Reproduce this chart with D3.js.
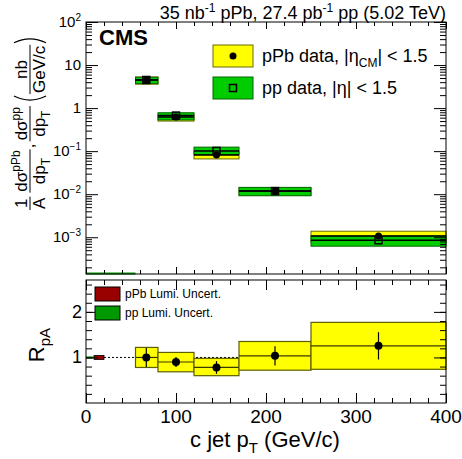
<!DOCTYPE html>
<html>
<head>
<meta charset="utf-8">
<script src="https://cdn.jsdelivr.net/npm/d3@7"></script>
<style>
body{margin:0;background:#fff;}
svg{font-family:"Liberation Sans",Arial,Helvetica,sans-serif;}
</style>
</head>
<body>
<div id="chart"></div>
<script>
// c jet pT bins (GeV/c)
const binLo = [55, 80, 120, 170, 250];
const binHi = [80, 120, 170, 250, 400];
const binPt = [67, 100, 145, 210, 325];
// pPb spectrum (scaled by 1/A), nb/(GeV/c)
const pPbVal = [4.5, 0.62, 0.081, 0.0118, 0.00107];
const pPbSysLo = [3.6, 0.50, 0.066, 0.0095, 0.00077];
const pPbSysHi = [5.3, 0.72, 0.100, 0.0140, 0.00138];
// pp spectrum
const ppVal = [4.5, 0.67, 0.101, 0.0118, 0.00085];
const ppSysLo = [3.7, 0.53, 0.083, 0.0092, 0.00062];
const ppSysHi = [5.2, 0.78, 0.124, 0.0144, 0.00107];
// nuclear modification factor
const rpaVal = [1.0, 0.90, 0.78, 1.035, 1.255];
const rpaStat = [0.21, 0.11, 0.14, 0.21, 0.30];
const rpaSysLo = [0.78, 0.685, 0.60, 0.72, 0.74];
const rpaSysHi = [1.22, 1.11, 0.98, 1.35, 1.77];
// luminosity uncertainties: [xlo, xhi, halfwidth]
const lumiPP = [0, 9, 0.023];
const lumiPPb = [9, 20, 0.045];
// ticks
const xMajor = [0, 100, 200, 300, 400];
const xMinor = d3.range(0, 401, 20);
const decades = [-3, -2, -1, 0, 1, 2];
const rMajor = [1, 2];
const rMinor = d3.range(0.2, 2.7, 0.2);

const W = 462, H = 459;
const x = d3.scaleLinear().domain([0, 400]).range([86, 446]);
const yTop = d3.scaleLog().domain([1.4e-4, 100]).range([274, 22]);
const yBot = d3.scaleLinear().domain([0, 2.7]).range([403, 280]);

const svg = d3.select("#chart").append("svg").attr("width", W).attr("height", H);

let logMinor = [];
decades.concat([-4]).forEach(function(k){
	for(let m = 2; m <= 9; m++){
		let v = m * Math.pow(10, k);
		if(v > 1.4e-4 && v < 100) logMinor.push(v);
	}
});

function tickAxis(axisFn, scale, values, size, tx, ty){
	let g = svg.append("g").attr("transform", "translate(" + tx + "," + ty + ")");
	g.call(axisFn(scale).tickValues(values).tickSize(-size).tickSizeOuter(0).tickFormat(""));
	g.select(".domain").remove();
	g.selectAll("line").attr("stroke", "#000");
	return g;
}

// ---------- top panel ----------
const topG = svg.append("g");
for(let i = 0; i < binLo.length; i++){
	topG.append("rect")
		.attr("x", x(binLo[i])).attr("width", x(binHi[i]) - x(binLo[i]))
		.attr("y", yTop(pPbSysHi[i])).attr("height", yTop(pPbSysLo[i]) - yTop(pPbSysHi[i]))
		.attr("fill", "#ffff00").attr("stroke", "#6b6b00").attr("stroke-width", 1);
	topG.append("rect")
		.attr("x", x(binLo[i])).attr("width", x(binHi[i]) - x(binLo[i]))
		.attr("y", yTop(ppSysHi[i])).attr("height", yTop(ppSysLo[i]) - yTop(ppSysHi[i]))
		.attr("fill", "#00cc00").attr("stroke", "#006600").attr("stroke-width", 1);
	[pPbVal[i], ppVal[i]].forEach(function(v){
		topG.append("line")
			.attr("x1", x(binLo[i])).attr("x2", x(binHi[i]))
			.attr("y1", yTop(v)).attr("y2", yTop(v))
			.attr("stroke", "#000").attr("stroke-width", 1.5);
	});
}
for(let i = 0; i < binLo.length; i++){
	topG.append("circle").attr("cx", x(binPt[i])).attr("cy", yTop(pPbVal[i])).attr("r", 3.5).attr("fill", "#000");
	topG.append("rect").attr("x", x(binPt[i]) - 3.5).attr("y", yTop(ppVal[i]) - 3.5)
		.attr("width", 7).attr("height", 7).attr("fill", "none").attr("stroke", "#000").attr("stroke-width", 1.5);
}
// pp lumi band collapsed onto the lower edge
topG.append("line").attr("x1", x(0)).attr("x2", x(55)).attr("y1", 273.5).attr("y2", 273.5)
	.attr("stroke", "#009900").attr("stroke-width", 2);

svg.append("rect").attr("x", 86).attr("y", 22).attr("width", 360).attr("height", 252)
	.attr("fill", "none").attr("stroke", "#000").attr("stroke-width", 1);

tickAxis(d3.axisLeft, yTop, decades.map(k => Math.pow(10, k)), 12, 86, 0);
tickAxis(d3.axisLeft, yTop, logMinor, 6, 86, 0);
tickAxis(d3.axisRight, yTop, decades.map(k => Math.pow(10, k)), 12, 446, 0);
tickAxis(d3.axisRight, yTop, logMinor, 6, 446, 0);
tickAxis(d3.axisBottom, x, xMajor, 7, 0, 274);
tickAxis(d3.axisBottom, x, xMinor, 4, 0, 274);
tickAxis(d3.axisTop, x, xMajor, 7, 0, 22);
tickAxis(d3.axisTop, x, xMinor, 4, 0, 22);

decades.forEach(function(k){
	let t = svg.append("text").attr("x", 81).attr("y", yTop(Math.pow(10, k)) + 5)
		.attr("text-anchor", "end").style("font-size", "15px");
	if(k === 0){
		t.text("1");
	}else if(k === 1){
		t.text("10");
	}else{
		t.append("tspan").text("10");
		t.append("tspan").attr("dy", -6).style("font-size", "10px").text(k < 0 ? "\u2212" + (-k) : k);
	}
});

// y title (rotated, laid out along the reading direction)
const yt = svg.append("g").attr("transform", "translate(30,250) rotate(-90)").style("font-size", "17px");
let cursor = 40;
function fracPart(num, numSup, den, denSub){
	let n = yt.append("text").attr("y", -3).attr("text-anchor", "middle");
	n.append("tspan").text(num);
	if(numSup) n.append("tspan").attr("dy", -7).style("font-size", "12px").text(numSup);
	let d = yt.append("text").attr("y", 15).attr("text-anchor", "middle");
	d.append("tspan").text(den);
	if(denSub) d.append("tspan").attr("dy", 5).style("font-size", "12px").text(denSub);
	let w = Math.max(n.node().getComputedTextLength(), d.node().getComputedTextLength()) + 2;
	let cx = cursor + w/2;
	n.attr("x", cx);
	d.attr("x", cx);
	yt.append("line").attr("x1", cx - w/2).attr("x2", cx + w/2).attr("y1", 0).attr("y2", 0)
		.attr("stroke", "#000").attr("stroke-width", 1);
	cursor += w;
}
fracPart("1", null, "A", null);
cursor += 4;
fracPart("d\u03c3", "pPb", "dp", "T");
cursor += 1;
yt.append("text").attr("x", cursor).attr("y", 4).text(",");
cursor += 7;
fracPart("d\u03c3", "pp", "dp", "T");
cursor += 4;
yt.append("path").attr("d", "M" + (cursor + 6) + ",-16 Q" + (cursor - 2) + ",0 " + (cursor + 6) + ",16")
	.attr("fill", "none").attr("stroke", "#000").attr("stroke-width", 1.3);
cursor += 8;
fracPart("nb", null, "GeV/c", null);
cursor += 2;
yt.append("path").attr("d", "M" + cursor + ",-16 Q" + (cursor + 8) + ",0 " + cursor + ",16")
	.attr("fill", "none").attr("stroke", "#000").attr("stroke-width", 1.3);

// header texts
const head = svg.append("text").attr("x", 446).attr("y", 19).attr("text-anchor", "end").style("font-size", "18px");
head.append("tspan").text("35 nb");
head.append("tspan").attr("dy", -7).style("font-size", "12px").text("-1");
head.append("tspan").attr("dy", 7).text(" pPb, 27.4 pb");
head.append("tspan").attr("dy", -7).style("font-size", "12px").text("-1");
head.append("tspan").attr("dy", 7).text(" pp (5.02 TeV)");

svg.append("text").attr("x", 99).attr("y", 45).style("font-size", "22px").style("font-weight", "bold").text("CMS");

// top legend
svg.append("rect").attr("x", 213).attr("y", 45).attr("width", 40).attr("height", 22)
	.attr("fill", "#ffff00").attr("stroke", "#6b6b00");
svg.append("circle").attr("cx", 233).attr("cy", 56).attr("r", 3.5).attr("fill", "#000");
svg.append("rect").attr("x", 213).attr("y", 77).attr("width", 40).attr("height", 22)
	.attr("fill", "#00cc00").attr("stroke", "#006600");
svg.append("rect").attr("x", 229.5).attr("y", 84.5).attr("width", 7).attr("height", 7)
	.attr("fill", "none").attr("stroke", "#000").attr("stroke-width", 1.5);
const l1 = svg.append("text").attr("x", 262).attr("y", 62).style("font-size", "18px");
l1.append("tspan").text("pPb data, |\u03b7");
l1.append("tspan").attr("dy", 5).style("font-size", "12px").text("CM");
l1.append("tspan").attr("dy", -5).text("| < 1.5");
svg.append("text").attr("x", 262).attr("y", 94).style("font-size", "18px").text("pp data, |\u03b7| < 1.5");

// ---------- bottom panel ----------
const botG = svg.append("g");
botG.append("line").attr("x1", x(20)).attr("x2", x(400)).attr("y1", yBot(1)).attr("y2", yBot(1))
	.attr("stroke", "#000").attr("stroke-dasharray", "2,2").attr("stroke-width", 1);
botG.append("rect").attr("x", x(lumiPP[0])).attr("width", x(lumiPP[1]) - x(lumiPP[0]))
	.attr("y", yBot(1 + lumiPP[2])).attr("height", yBot(1 - lumiPP[2]) - yBot(1 + lumiPP[2]))
	.attr("fill", "#009900");
botG.append("rect").attr("x", x(lumiPPb[0])).attr("width", x(lumiPPb[1]) - x(lumiPPb[0]))
	.attr("y", yBot(1 + lumiPPb[2])).attr("height", yBot(1 - lumiPPb[2]) - yBot(1 + lumiPPb[2]))
	.attr("fill", "#990000").attr("stroke", "#000").attr("stroke-width", 0.8);
for(let i = 0; i < binLo.length; i++){
	botG.append("rect")
		.attr("x", x(binLo[i])).attr("width", x(binHi[i]) - x(binLo[i]))
		.attr("y", yBot(rpaSysHi[i])).attr("height", yBot(rpaSysLo[i]) - yBot(rpaSysHi[i]))
		.attr("fill", "#ffff00").attr("stroke", "#5e5e00").attr("stroke-width", 1.2);
	botG.append("line").attr("x1", x(binLo[i])).attr("x2", x(binHi[i]))
		.attr("y1", yBot(rpaVal[i])).attr("y2", yBot(rpaVal[i]))
		.attr("stroke", "#3a3a00").attr("stroke-width", 1.2);
	botG.append("line").attr("x1", x(binPt[i])).attr("x2", x(binPt[i]))
		.attr("y1", yBot(rpaVal[i] + rpaStat[i])).attr("y2", yBot(rpaVal[i] - rpaStat[i]))
		.attr("stroke", "#000").attr("stroke-width", 1.2);
	botG.append("circle").attr("cx", x(binPt[i])).attr("cy", yBot(rpaVal[i])).attr("r", 4).attr("fill", "#000");
}

svg.append("rect").attr("x", 86).attr("y", 280).attr("width", 360).attr("height", 123)
	.attr("fill", "none").attr("stroke", "#000").attr("stroke-width", 1);
tickAxis(d3.axisLeft, yBot, rMajor, 12, 86, 0);
tickAxis(d3.axisLeft, yBot, rMinor, 6, 86, 0);
tickAxis(d3.axisRight, yBot, rMajor, 12, 446, 0);
tickAxis(d3.axisRight, yBot, rMinor, 6, 446, 0);
tickAxis(d3.axisBottom, x, xMajor, 10, 0, 403);
tickAxis(d3.axisBottom, x, xMinor, 5, 0, 403);
tickAxis(d3.axisTop, x, xMajor, 10, 0, 280);
tickAxis(d3.axisTop, x, xMinor, 5, 0, 280);

rMajor.forEach(function(v){
	svg.append("text").attr("x", 82).attr("y", yBot(v) + 6).attr("text-anchor", "end")
		.style("font-size", "18px").text(v);
});
xMajor.forEach(function(v){
	svg.append("text").attr("x", x(v)).attr("y", 423).attr("text-anchor", "middle")
		.style("font-size", "19px").text(v);
});

// bottom legend
svg.append("rect").attr("x", 95).attr("y", 287).attr("width", 25).attr("height", 14)
	.attr("fill", "#990000").attr("stroke", "#000");
svg.append("rect").attr("x", 95).attr("y", 306).attr("width", 25).attr("height", 14)
	.attr("fill", "#009900").attr("stroke", "#000");
svg.append("text").attr("x", 125).attr("y", 298).style("font-size", "12px").text("pPb Lumi. Uncert.");
svg.append("text").attr("x", 125).attr("y", 317).style("font-size", "12px").text("pp Lumi. Uncert.");

// axis titles
const xt = svg.append("text").attr("x", 265).attr("y", 447).attr("text-anchor", "middle").style("font-size", "22px");
xt.append("tspan").text("c jet p");
xt.append("tspan").attr("dy", 6).style("font-size", "15px").text("T");
xt.append("tspan").attr("dy", -6).text(" (GeV/c)");

const rt = svg.append("text").attr("transform", "translate(44,345) rotate(-90)").attr("text-anchor", "middle")
	.style("font-size", "22px");
rt.append("tspan").text("R");
rt.append("tspan").attr("dy", 6).style("font-size", "15px").text("pA");
</script>
</body>
</html>
